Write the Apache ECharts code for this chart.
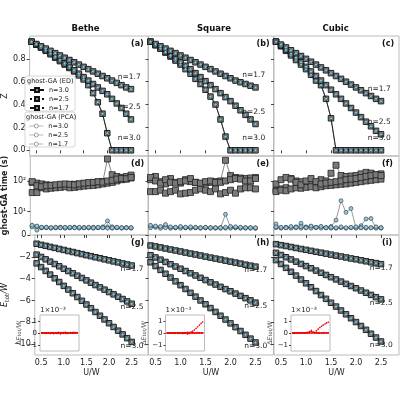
<!DOCTYPE html>
<html>
<head>
<meta charset="utf-8">
<script src="https://cdn.jsdelivr.net/npm/echarts@6/dist/echarts.min.js"></script>
<style>html,body{margin:0;padding:0;background:#fff}#c{width:400px;height:400px}</style>
</head>
<body>
<div id="c"></div>
<script>
// U/W grid shared by every panel
var U = [0.4,0.5,0.6,0.7,0.8,0.9,1.0,1.1,1.2,1.3,1.4,1.5,1.6,1.7,1.8,1.9,2.0,2.1,2.2,2.3,2.4,2.5];
var fillings = ['n=3.0', 'n=2.5', 'n=1.7'];
var lattices = ['Bethe', 'Square', 'Cubic'];
var uTicks = [0.5, 1.0, 1.5, 2.0, 2.5];
var zTicks = [0, 0.2, 0.4, 0.6, 0.8];
var tTicks = [1.74, 10, 100];
var eTicks = [-10, -8, -6, -4, -2];
var dTicks = [-1, 0, 1];

// quasiparticle weight Z  [lattice][n=3.0, 2.5, 1.7]
var zBethe = [
  [0.95,0.925,0.90,0.87,0.84,0.81,0.78,0.75,0.72,0.69,0.655,0.62,0.57,0.50,0.42,0.32,0.15,0,0,0,0,0],
  [0.95,0.925,0.90,0.875,0.85,0.82,0.79,0.76,0.73,0.70,0.67,0.64,0.61,0.58,0.55,0.52,0.49,0.45,0.41,0.37,0.32,0.27],
  [0.95,0.93,0.91,0.89,0.87,0.85,0.83,0.81,0.79,0.77,0.75,0.73,0.71,0.69,0.67,0.65,0.63,0.61,0.59,0.57,0.55,0.535]
];
var zSquare = [
  [0.95,0.92,0.89,0.855,0.82,0.785,0.75,0.71,0.67,0.625,0.58,0.53,0.47,0.40,0.27,0.12,0,0,0,0,0,0],
  [0.95,0.92,0.89,0.86,0.83,0.80,0.77,0.74,0.71,0.675,0.64,0.605,0.57,0.535,0.50,0.465,0.43,0.39,0.35,0.31,0.27,0.23],
  [0.95,0.93,0.91,0.89,0.87,0.85,0.83,0.81,0.79,0.77,0.75,0.73,0.71,0.69,0.67,0.65,0.63,0.61,0.595,0.58,0.565,0.55]
];
var zCubic = [
  [0.95,0.91,0.87,0.83,0.79,0.75,0.71,0.66,0.61,0.57,0.45,0.28,0,0,0,0,0,0,0,0,0,0],
  [0.95,0.915,0.88,0.845,0.81,0.77,0.73,0.69,0.65,0.61,0.57,0.53,0.49,0.45,0.41,0.37,0.33,0.29,0.25,0.21,0.17,0.14],
  [0.95,0.925,0.90,0.875,0.85,0.825,0.80,0.775,0.75,0.725,0.70,0.675,0.65,0.625,0.60,0.575,0.55,0.525,0.50,0.475,0.45,0.43]
];

// run time in seconds, ED bath vs PCA
var tEdBethe = [
  [90,85,80,75,72,70,72,70,75,78,80,82,85,88,92,95,520,160,140,130,140,155],
  [42,42,60,55,58,60,62,65,60,62,65,68,70,72,75,80,85,90,100,110,115,125],
  [95,70,65,70,72,75,78,80,78,75,80,85,88,90,95,92,100,105,115,120,118,130]
];
var tEdSquare = [
  [110,140,95,80,120,90,85,110,95,90,80,85,90,95,100,470,150,130,125,120,125,130],
  [45,45,50,40,45,50,38,40,42,50,55,50,45,55,38,42,50,40,55,60,60,55],
  [130,100,85,110,90,85,95,100,120,90,85,95,100,90,90,100,110,120,115,100,100,120]
];
var tEdCubic = [
  [50,55,60,120,100,95,70,80,90,110,100,178,325,150,140,145,150,170,190,180,160,170],
  [45,50,48,55,60,58,62,65,60,65,70,72,75,78,80,85,90,95,100,105,110,115],
  [80,110,130,115,90,75,100,120,95,80,85,90,95,100,110,115,120,130,140,150,160,150]
];
var tPcaBethe = [
  [3.5,3.3,3.0,3.1,3.0,3.0,3.1,3.0,3.0,3.1,3.0,3.0,3.0,3.1,3.0,3.2,5.0,3.2,3.0,3.0,3.0,3.0],
  [3.2,2.5,3.0,3.0,2.9,3.0,3.0,2.9,3.0,3.0,2.9,3.0,3.0,2.9,3.0,3.0,3.2,2.9,3.0,2.9,3.0,2.9],
  [3.6,3.4,3.1,3.1,3.0,3.1,3.0,3.1,3.1,3.0,3.1,3.0,3.1,3.0,3.1,3.0,2.9,3.0,3.1,3.0,3.0,3.0]
];
var tPcaSquare = [
  [3.4,3.2,3.0,3.3,3.0,3.0,3.1,3.0,3.0,3.0,3.0,3.0,3.0,2.9,3.0,8.2,3.1,3.0,3.0,2.9,3.0,2.9],
  [3.0,3.1,2.9,3.0,2.9,3.0,2.9,3.0,2.9,3.0,2.9,3.0,2.9,3.0,2.9,2.9,2.9,3.0,2.9,3.0,2.9,2.9],
  [3.6,3.4,3.3,3.8,3.2,3.1,3.3,3.1,3.2,3.1,3.0,3.1,3.0,3.0,3.0,3.1,3.3,3.2,3.1,3.0,3.0,3.0]
];
var tPcaCubic = [
  [4.0,3.0,3.1,3.0,3.2,4.2,3.2,3.3,3.1,3.2,3.0,3.3,5.3,22.8,9.5,12.7,3.0,3.5,5.8,6.0,3.0,3.0],
  [3.0,2.9,3.0,2.9,3.0,2.9,3.0,2.9,3.0,2.9,3.0,2.9,2.9,3.0,2.9,3.0,2.9,3.0,2.9,3.0,2.9,2.9],
  [3.2,3.1,3.0,3.3,3.1,3.2,3.0,3.4,3.1,3.3,3.0,3.1,3.0,3.2,3.0,3.1,3.2,3.0,3.1,3.0,3.2,3.0]
];

// total energy E_tot/W
var eBethe = [
  [-2.60,-2.94,-3.29,-3.63,-3.97,-4.31,-4.66,-5.00,-5.34,-5.69,-6.03,-6.37,-6.71,-7.06,-7.40,-7.74,-8.09,-8.43,-8.77,-9.11,-9.46,-9.80],
  [-1.80,-2.01,-2.23,-2.44,-2.66,-2.87,-3.09,-3.30,-3.51,-3.73,-3.94,-4.16,-4.37,-4.59,-4.80,-5.01,-5.23,-5.44,-5.66,-5.87,-6.09,-6.30],
  [-0.80,-0.90,-0.99,-1.09,-1.18,-1.28,-1.37,-1.47,-1.56,-1.66,-1.75,-1.85,-1.94,-2.04,-2.13,-2.23,-2.32,-2.42,-2.51,-2.61,-2.70,-2.80]
];
var eSquare = [
  [-2.50,-2.85,-3.20,-3.55,-3.90,-4.25,-4.60,-4.95,-5.30,-5.65,-6.00,-6.35,-6.70,-7.05,-7.40,-7.75,-8.10,-8.45,-8.80,-9.15,-9.50,-9.85],
  [-1.85,-2.06,-2.26,-2.47,-2.68,-2.89,-3.09,-3.30,-3.51,-3.71,-3.92,-4.13,-4.34,-4.54,-4.75,-4.96,-5.16,-5.37,-5.58,-5.79,-5.99,-6.20],
  [-0.96,-1.05,-1.14,-1.24,-1.33,-1.42,-1.51,-1.61,-1.70,-1.79,-1.88,-1.98,-2.07,-2.16,-2.25,-2.35,-2.44,-2.53,-2.62,-2.72,-2.81,-2.90]
];
var eCubic = [
  [-2.30,-2.66,-3.01,-3.37,-3.72,-4.08,-4.43,-4.79,-5.14,-5.50,-5.85,-6.21,-6.56,-6.92,-7.27,-7.63,-7.98,-8.34,-8.69,-9.05,-9.40,-9.76],
  [-1.63,-1.83,-2.04,-2.24,-2.44,-2.65,-2.85,-3.05,-3.26,-3.46,-3.66,-3.87,-4.07,-4.27,-4.48,-4.68,-4.88,-5.09,-5.29,-5.49,-5.70,-5.90],
  [-0.84,-0.93,-1.01,-1.10,-1.19,-1.28,-1.36,-1.45,-1.54,-1.62,-1.71,-1.80,-1.89,-1.97,-2.06,-2.15,-2.23,-2.32,-2.41,-2.50,-2.58,-2.67]
];

// energy difference ED - PCA, units of 1e-3 W
var dBethe = [
  [0,0.02,-0.03,0.01,0,-0.05,0.03,-0.06,0.02,-0.04,0.05,-0.08,0.04,-0.03,0.06,-0.05,0.02,0.04,-0.02,0.05,0.03,0.02],
  [0,0,0.01,0,-0.01,0,0.02,-0.02,0.01,0,-0.03,0.02,0,0.03,-0.02,0.01,0,-0.02,0.03,0.01,0,0.02],
  [0,0,0,0,0,0,0,0,0,0,0,0,0,0,0,0,0,0,0,0,0,0]
];
var dSquare = [
  [0,0.01,-0.02,0.01,0,-0.03,0.02,-0.04,0.02,-0.05,0.03,-0.02,0.05,-0.03,0.08,0.15,0.25,0.38,0.52,0.66,0.8,0.92],
  [0,0,0.01,0,-0.01,0,0.02,-0.02,0.01,0,-0.03,0.02,-0.08,-0.04,0.02,0.01,0,-0.02,0.03,0.01,0,0.02],
  [0,0,0,0,0,0,0,0,0,0,0,0,0,0,0,0,0,0,0,0,0,0]
];
var dCubic = [
  [0,0.01,0,0.01,0,0.02,0.01,-0.02,0.03,0.06,0.12,0.22,0.08,0.02,0.18,0.32,0.45,0.56,0.66,0.75,0.84,0.9],
  [0,0,0.01,0,-0.01,0,0.02,-0.02,0.01,0,0.05,0.15,0.04,0,0.02,0.01,0,-0.02,0.01,0.01,0,0.02],
  [0,0,0,0,0,0,0,0,0,0,0,0,0,0,0,0,0,0,0,0,0,0]
];

var zData = [zBethe, zSquare, zCubic];
var tEd = [tEdBethe, tEdSquare, tEdCubic];
var tPca = [tPcaBethe, tPcaSquare, tPcaCubic];
var eData = [eBethe, eSquare, eCubic];
var dData = [dBethe, dSquare, dCubic];

var colLeft = [23, 148.5, 274];
var colW = 125;
var rowTop = [36, 156, 235];
var rowH = [120, 79, 120];
var edDash = ['solid', 'dotted', 'dashed'];
var font = 'DejaVu Sans';

var grids = [], xAxes = [], yAxes = [], series = [], graphics = [];

function pair(xs, ys) {
  return xs.map(function (x, i) { return [x, ys[i]]; });
}

function ticked(show, values, fmt) {
  return {
    axisTick: {show: true, length: 3, customValues: values, lineStyle: {color: '#444'}},
    axisLabel: {show: show, customValues: values, formatter: fmt, fontSize: 8,
      color: '#222', fontFamily: font, margin: 4}
  };
}

for (var r = 0; r < 3; r++) {
  for (var c = 0; c < 3; c++) {
    var g = r * 3 + c;
    grids.push({left: colLeft[c], top: rowTop[r], width: colW, height: rowH[r],
      show: true, borderColor: '#bbb', borderWidth: 1, backgroundColor: 'transparent'});
    var xt = ticked(r === 2, uTicks, function (v) { return v.toFixed(1); });
    xAxes.push({type: 'value', gridIndex: g, min: 0.36, max: 2.86,
      axisLine: {show: false}, splitLine: {show: false},
      axisTick: xt.axisTick, axisLabel: xt.axisLabel,
      name: r === 2 ? 'U/W' : '', nameLocation: 'middle', nameGap: 14,
      nameTextStyle: {fontSize: 8, color: '#222', fontFamily: font}});
    var ya = {gridIndex: g, axisLine: {show: false}, splitLine: {show: false},
      nameLocation: 'middle', nameTextStyle: {fontSize: 8, color: '#222', fontFamily: font}};
    var yt;
    if (r === 0) {
      ya.type = 'value'; ya.min = -0.05; ya.max = 1.0;
      yt = ticked(c === 0, zTicks, function (v) { return v.toFixed(1); });
      if (c === 0) { ya.name = 'Z'; ya.nameGap = 20; }
    } else if (r === 1) {
      ya.type = 'log'; ya.min = 1.74; ya.max = 650;
      yt = ticked(c === 0, tTicks, function (v) {
        if (Math.abs(v - 10) < 1e-6) return '10¹';
        if (Math.abs(v - 100) < 1e-6) return '10²';
        return '0';
      });
      if (c === 0) { ya.name = 'ghost-GA time (s)'; ya.nameGap = 17;
        ya.nameTextStyle.fontWeight = 'bold'; }
    } else {
      ya.type = 'value'; ya.min = -11; ya.max = 0;
      yt = ticked(c === 0, eTicks, function (v) { return String(v).replace('-', '−'); });
      if (c === 0) { ya.name = '{i|E}{s|tot}{i|/W}'; ya.nameGap = 18;
        ya.nameTextStyle.rich = {i: {fontSize: 8, fontFamily: font, fontStyle: 'italic'},
          s: {fontSize: 6, fontFamily: font, verticalAlign: 'bottom', padding: [4, 0, 0, 0]}}; }
    }
    ya.axisTick = yt.axisTick; ya.axisLabel = yt.axisLabel;
    yAxes.push(ya);
  }
}

// insets in the energy row
for (var c = 0; c < 3; c++) {
  var g = 9 + c;
  grids.push({left: colLeft[c] + 17, top: 315, width: 39, height: 36,
    show: true, borderColor: '#bbb', borderWidth: 1, backgroundColor: '#fff'});
  xAxes.push({type: 'value', gridIndex: g, min: 0.3, max: 2.6, axisLine: {show: false},
    axisTick: {show: false}, axisLabel: {show: false}, splitLine: {show: false}});
  var dt = ticked(true, dTicks, function (v) { return String(v).replace('-', '−'); });
  dt.axisLabel.fontSize = 7; dt.axisLabel.margin = 3; dt.axisTick.length = 2;
  yAxes.push({type: 'value', gridIndex: g, min: -1.5, max: 1.5,
    axisLine: {show: false}, splitLine: {show: false},
    axisTick: dt.axisTick, axisLabel: dt.axisLabel,
    name: '{i|ΔE}{s|tot}{i|/W}', nameLocation: 'middle', nameGap: 10,
    nameTextStyle: {rich: {i: {fontSize: 6.5, fontFamily: font, fontStyle: 'italic'},
      s: {fontSize: 5, fontFamily: font}}}});
  graphics.push({type: 'text', left: colLeft[c] + 17, top: 307,
    style: {text: '1×10⁻³', fontSize: 7, fill: '#222', fontFamily: font}});
}

function endLabel(ys, txt, off) {
  var d = pair(U, ys);
  var last = d.length - 1;
  d[last] = {value: d[last], label: {show: true, formatter: txt, position: off,
    fontSize: 7.5, color: '#222', fontFamily: font}};
  return d;
}

for (var c = 0; c < 3; c++) {
  for (var k = 0; k < 3; k++) {
    var n = fillings[k];
    // Z panels
    series.push({type: 'line', name: 'ED ' + n, xAxisIndex: c, yAxisIndex: c,
      data: endLabel(zData[c][k], n, [-10, -13]), symbol: 'rect', symbolSize: 5.5,
      itemStyle: {color: '#8a8a8a', borderColor: '#111', borderWidth: 0.9},
      lineStyle: {color: '#111', width: 0.8, type: edDash[k]}, z: 3});
    series.push({type: 'line', name: 'PCA ' + n, xAxisIndex: c, yAxisIndex: c,
      data: pair(U, zData[c][k]), symbol: 'circle', symbolSize: 3,
      itemStyle: {color: '#7ec8e3', borderColor: '#111', borderWidth: 0.4},
      lineStyle: {color: '#111', width: 0.6}, z: 4});
    // timing panels
    series.push({type: 'line', name: 'ED ' + n, xAxisIndex: 3 + c, yAxisIndex: 3 + c,
      data: pair(U, tEd[c][k]), symbol: 'rect', symbolSize: 6,
      itemStyle: {color: '#7a7a7a', borderColor: '#222', borderWidth: 0.8},
      lineStyle: {color: '#555', width: 0.7}, z: 3});
    series.push({type: 'line', name: 'PCA ' + n, xAxisIndex: 3 + c, yAxisIndex: 3 + c,
      data: pair(U, tPca[c][k]), symbol: 'circle', symbolSize: 4,
      itemStyle: {color: '#8ecae6', borderColor: '#333', borderWidth: 0.6},
      lineStyle: {color: '#555', width: 0.6}, z: 4});
    // energy panels
    series.push({type: 'line', name: 'ED ' + n, xAxisIndex: 6 + c, yAxisIndex: 6 + c,
      data: endLabel(eData[c][k], n, [-8, 3]), symbol: 'rect', symbolSize: 5.5,
      itemStyle: {color: '#8a8a8a', borderColor: '#111', borderWidth: 0.9},
      lineStyle: {color: '#111', width: 0.8, type: edDash[k]}, z: 3});
    series.push({type: 'line', name: 'PCA ' + n, xAxisIndex: 6 + c, yAxisIndex: 6 + c,
      data: pair(U, eData[c][k]), symbol: 'circle', symbolSize: 3,
      itemStyle: {color: '#7ec8e3', borderColor: '#111', borderWidth: 0.4},
      lineStyle: {color: '#111', width: 0.6}, z: 4});
    // inset
    series.push({type: 'line', name: 'diff ' + n, xAxisIndex: 9 + c, yAxisIndex: 9 + c,
      data: pair(U, dData[c][k]), symbol: 'circle', symbolSize: 1.6, showSymbol: true,
      itemStyle: {color: '#e00'}, lineStyle: {color: '#e00', width: 0.8,
        type: k === 0 ? 'dotted' : (k === 1 ? 'dashed' : 'solid')}, z: 5});
  }
  graphics.push({type: 'text', left: colLeft[c] + colW / 2 - 14, top: 24,
    style: {text: lattices[c], fontSize: 8.5, fontWeight: 'bold', fill: '#111',
      fontFamily: font}});
  for (var r = 0; r < 3; r++) {
    graphics.push({type: 'text', left: colLeft[c] + colW - 17, top: rowTop[r] + 4,
      style: {text: '(' + 'abcdefghi'[r * 3 + c] + ')', fontSize: 8, fontWeight: 'bold',
        fill: '#111', fontFamily: font}});
  }
}

// legend frames in panel (a)
graphics.push({type: 'rect', shape: {x: 25, y: 76, width: 50, height: 35, r: 2},
  style: {fill: 'rgba(255,255,255,0.92)', stroke: '#ccc', lineWidth: 0.8}, z: 10});
graphics.push({type: 'rect', shape: {x: 25, y: 112, width: 50, height: 35, r: 2},
  style: {fill: 'rgba(255,255,255,0.92)', stroke: '#ccc', lineWidth: 0.8}, z: 10});
graphics.push({type: 'text', x: 27, y: 78, z: 11,
  style: {text: 'ghost-GA (ED)', fontSize: 6.5, fill: '#222', fontFamily: font}});
graphics.push({type: 'text', x: 26, y: 114, z: 11,
  style: {text: 'ghost-GA (PCA)', fontSize: 6.5, fill: '#222', fontFamily: font}});

var chart = echarts.init(document.getElementById('c'), null, {renderer: 'canvas'});
chart.setOption({
  backgroundColor: '#fff',
  animation: false,
  grid: grids,
  xAxis: xAxes,
  yAxis: yAxes,
  series: series,
  graphic: graphics,
  legend: [
    {data: ['ED n=3.0', 'ED n=2.5', 'ED n=1.7'], orient: 'vertical', left: 29, top: 86,
      itemWidth: 14, itemHeight: 5, itemGap: 1, padding: 0, z: 12,
      formatter: function (s) { return s.slice(3); },
      textStyle: {fontSize: 6.5, color: '#222', fontFamily: font, lineHeight: 8}},
    {data: ['PCA n=3.0', 'PCA n=2.5', 'PCA n=1.7'], orient: 'vertical', left: 29, top: 122,
      itemWidth: 14, itemHeight: 5, itemGap: 1, padding: 0, z: 12,
      itemStyle: {color: '#fff', borderColor: '#666', borderWidth: 0.6},
      lineStyle: {color: '#888', width: 0.6},
      formatter: function (s) { return s.slice(4); },
      textStyle: {fontSize: 6.5, color: '#222', fontFamily: font, lineHeight: 8}}
  ]
});
</script>
</body>
</html>
